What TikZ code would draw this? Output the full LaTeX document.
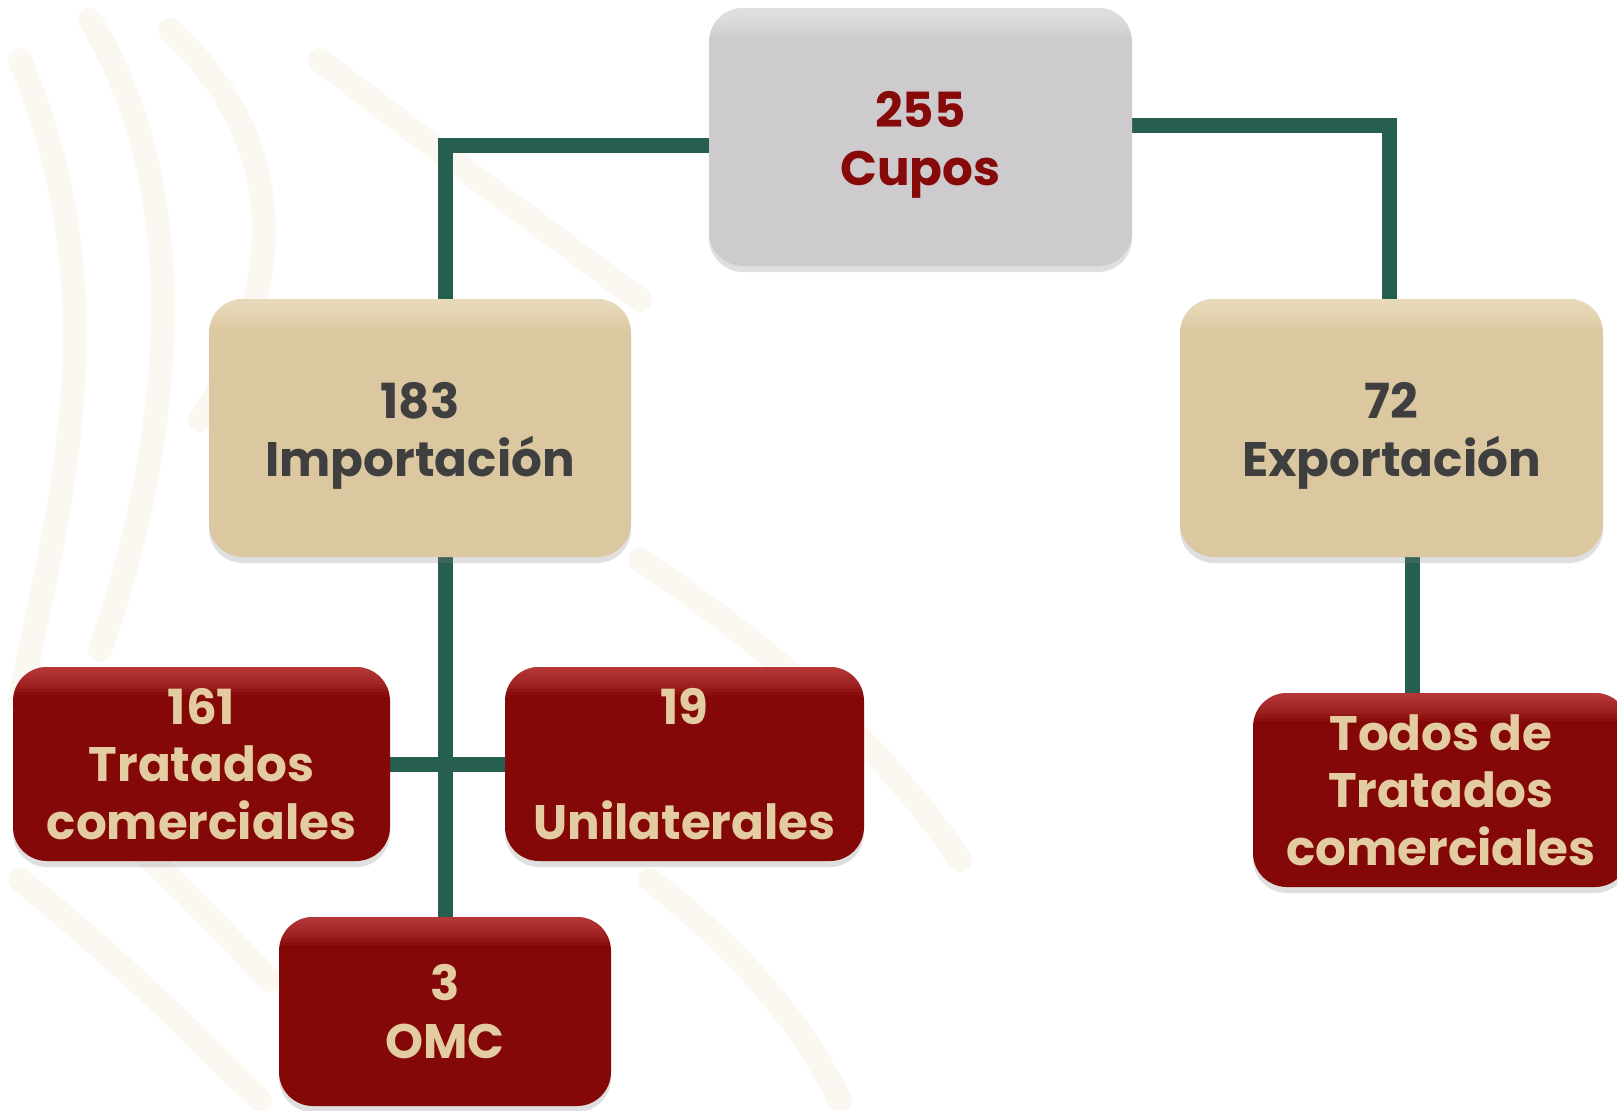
\documentclass[tikz,border=0pt]{standalone}
\usepackage{fontspec}
\setmainfont{Poppins}
\usetikzlibrary{shadows,backgrounds}
\definecolor{boxgray}{HTML}{CDCBCD}
\definecolor{grayhi}{HTML}{F2F1F3}
\definecolor{boxtan}{HTML}{DCC8A0}
\definecolor{tanhi}{HTML}{F6EBD2}
\definecolor{boxred}{HTML}{850808}
\definecolor{redhi}{HTML}{D85858}
\definecolor{txtred}{HTML}{870A0A}
\definecolor{txtgray}{HTML}{3F3F3F}
\definecolor{txttan}{HTML}{E3CCA2}
\definecolor{conngreen}{HTML}{265E4F}
\definecolor{wmark}{HTML}{FBF8F2}
\newcommand{\glossband}[2]{%
  \foreach \k in {1,...,10}{%
    \fill[#1, opacity=0.09, sharp corners]
      (path picture bounding box.north west) rectangle
      ([yshift=-\k*#2]path picture bounding box.north east);}}
\tikzset{
  box/.style={rounded corners=17pt, inner sep=0pt, align=center,
    font=\fontsize{24.2}{28.75}\selectfont\bfseries,
    drop shadow={opacity=0.25, shadow xshift=0pt, shadow yshift=-3pt}},
  graybox/.style={box, fill=boxgray, text=txtred,
    path picture={\glossband{grayhi}{1.5pt}}},
  tanbox/.style={box, fill=boxtan, text=txtgray,
    path picture={\glossband{tanhi}{1.5pt}}},
  redbox/.style={box, fill=boxred, text=txttan,
    path picture={\glossband{redhi}{1.4pt}}},
  conn/.style={draw=conngreen, line width=7.5pt},
  wm/.style={draw=wmark, line width=12pt, line cap=round}
}
\begin{document}
\begin{tikzpicture}[x=0.5pt,y=-0.5pt]
\useasboundingbox (0,0) rectangle (1617,1110);

\node[graybox, minimum width=211.5pt, minimum height=129pt] (cupos) at (920.5,137) {\\[-3pt]255\\Cupos};
\node[tanbox, minimum width=211pt, minimum height=129pt] (imp) at (420,428) {\\[-3pt]183\\Importación};
\node[tanbox, minimum width=211.5pt, minimum height=129pt] (exp) at (1391.5,428) {\\[-3pt]72\\Exportación};
\node[redbox, minimum width=188.5pt, minimum height=97pt] (t161) at (201.5,764) {161\\Tratados\\comerciales};
\node[redbox, minimum width=179.5pt, minimum height=97pt] (uni) at (684.5,764) {19\\[28.75pt]Unilaterales};
\node[redbox, minimum width=166pt, minimum height=94.5pt] (omc) at (445,1011.5) {3\\OMC};
\node[redbox, minimum width=188pt, minimum height=97pt] (todos) at (1441,790) {Todos de\\Tratados\\comerciales};

\begin{scope}[on background layer]
  \fill[white] (0,0) rectangle (1617,1110);
  % faint watermark strokes
  \draw[wm] (20,60) .. controls (120,300) and (60,500) .. (20,700);
  \draw[wm] (90,20) .. controls (200,200) and (170,450) .. (100,650);
  \draw[wm] (170,30) .. controls (300,150) and (280,300) .. (200,420);
  \draw[wm] (320,60) .. controls (450,160) and (560,240) .. (640,300);
  \draw[wm] (20,880) .. controls (120,960) and (200,1040) .. (260,1100);
  \draw[wm] (60,780) .. controls (160,860) and (220,930) .. (270,980);
  \draw[wm] (640,560) .. controls (760,640) and (880,740) .. (960,860);
  \draw[wm] (650,880) .. controls (740,950) and (800,1020) .. (840,1100);
  % connectors
  \draw[conn] ([yshift=-4pt]cupos.west) -| ([xshift=12.5pt]imp.north);
  \draw[conn] ([yshift=6pt]cupos.east) -| ([xshift=-1pt]exp.north);
  \draw[conn] ([xshift=12.5pt]imp.south) -- (omc.north);
  \draw[conn] (t161.east) -- (uni.west);
  \draw[conn] ([xshift=10.5pt]exp.south) -- ([xshift=10.5pt]exp.south |- todos.north);
\end{scope}
\end{tikzpicture}
\end{document}
